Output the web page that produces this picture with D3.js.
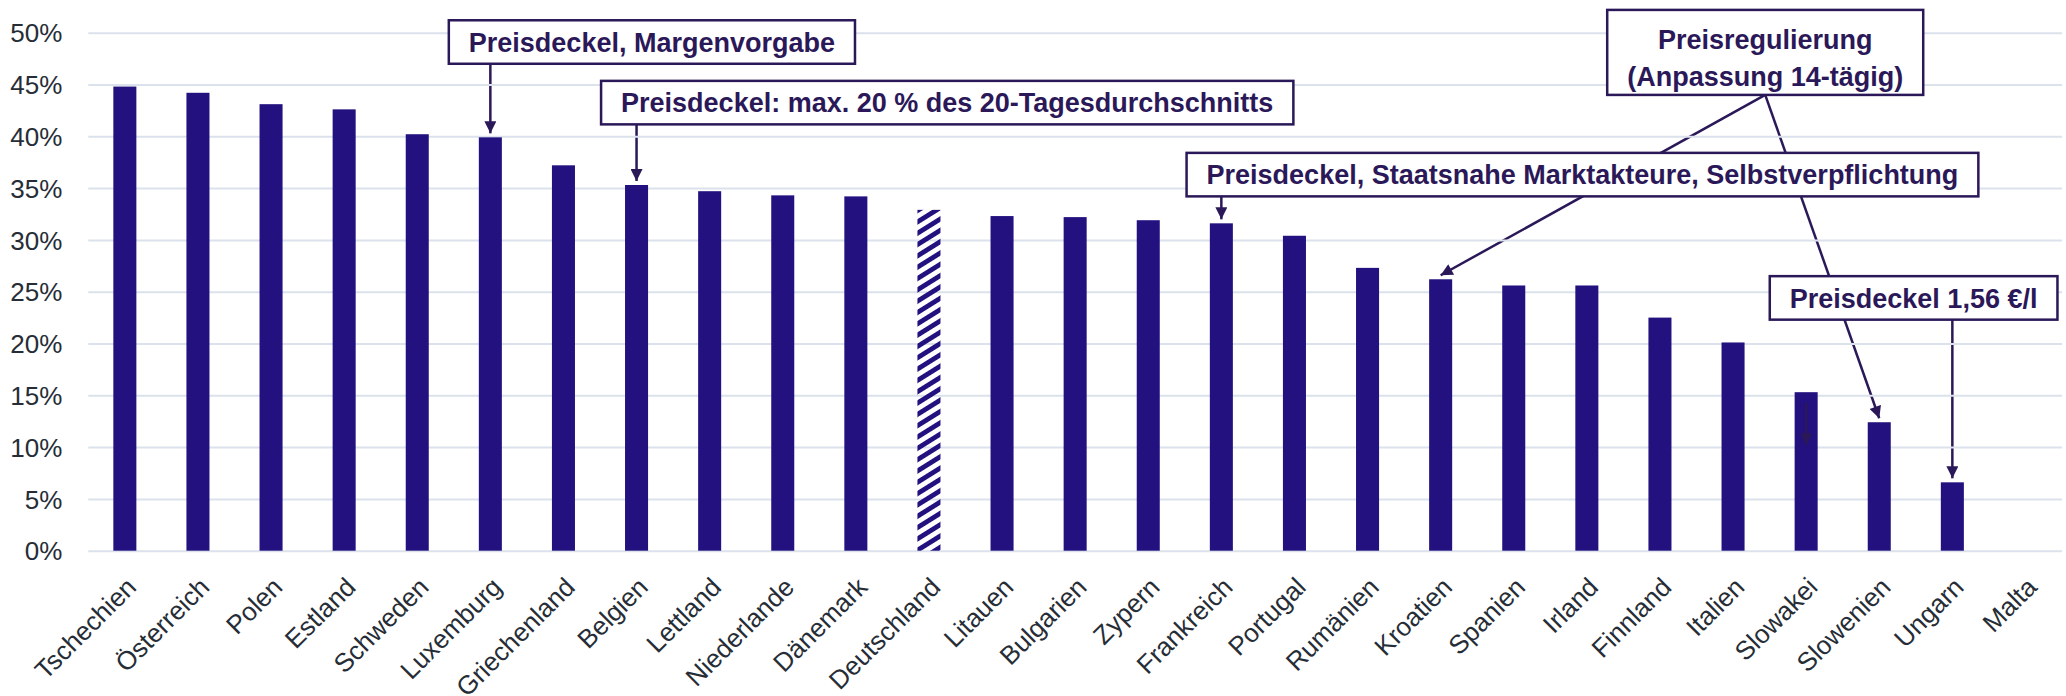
<!DOCTYPE html>
<html>
  <head>
    <meta charset="utf-8">
    <title>Preisanteil</title>
    <style>
      body { margin: 0; background: #fff; }
      text { font-family: "Liberation Sans", Arial, sans-serif; }
    </style>
  </head>
  <body>
    <svg id="chart"></svg>

    <script src="https://d3js.org/d3.v7.min.js"></script>
    <script>

const categories = ['Tschechien', 'Österreich', 'Polen', 'Estland', 'Schweden', 'Luxemburg',
  'Griechenland', 'Belgien', 'Lettland', 'Niederlande', 'Dänemark', 'Deutschland', 'Litauen',
  'Bulgarien', 'Zypern', 'Frankreich', 'Portugal', 'Rumänien', 'Kroatien', 'Spanien', 'Irland',
  'Finnland', 'Italien', 'Slowakei', 'Slowenien', 'Ungarn', 'Malta'];

const values = [44.8, 44.2, 43.1, 42.6, 40.2, 39.9, 37.2, 35.3, 34.7, 34.3, 34.2, 32.9, 32.3,
  32.2, 31.9, 31.6, 30.4, 27.3, 26.2, 25.6, 25.6, 22.5, 20.1, 15.3, 12.4, 6.6, null];

const hatched = ['Deutschland'];

const yTicks = [0, 5, 10, 15, 20, 25, 30, 35, 40, 45, 50];

// callout boxes: pos = fractional category index of the box centre, top = value (%) at the box top
const notes = [
  {lines: ['Preisdeckel, Margenvorgabe'], pos: 7.21, top: 51.2, targets: ['Luxemburg'], straight: true},
  {lines: ['Preisdeckel: max. 20 % des 20-Tagesdurchschnitts'], pos: 11.25, top: 45.35, targets: ['Belgien'], straight: true},
  {lines: ['Preisdeckel, Staatsnahe Marktakteure, Selbstverpflichtung'], pos: 19.94, top: 38.4, targets: ['Frankreich'], straight: true},
  {lines: ['Preisregulierung', '(Anpassung 14-tägig)'], pos: 22.44, top: 52.2, targets: ['Kroatien', 'Slowenien'], straight: false, pad: 20},
  {lines: ['Preisdeckel 1,56 €/l'], pos: 24.47, top: 26.5, targets: ['Ungarn'], straight: true}
];

const width = 2066, height = 696;
const barColor = '#22117e';
const noteColor = '#2b1858';

const svg = d3.select('#chart')
  .attr('width', width)
  .attr('height', height);

const x = d3.scaleBand()
  .domain(categories)
  .range([88.3, 2062])
  .paddingInner(0.685)
  .paddingOuter(0.3425);

const y = d3.scaleLinear()
  .domain([0, 50])
  .range([550.7, 32.7]);

const centre = c => x(c) + x.bandwidth() / 2;
const xi = d3.scaleLinear()
  .domain([0, categories.length - 1])
  .range([centre(categories[0]), centre(categories[categories.length - 1])]);

const defs = svg.append('defs');

defs.append('pattern')
  .attr('id', 'stripes')
  .attr('patternUnits', 'userSpaceOnUse')
  .attr('width', 10)
  .attr('height', 9.6)
  .attr('patternTransform', 'rotate(-32)')
  .append('rect')
  .attr('width', 10)
  .attr('height', 4.8)
  .attr('fill', barColor);

defs.append('marker')
  .attr('id', 'head')
  .attr('markerUnits', 'userSpaceOnUse')
  .attr('viewBox', '0 0 10 10')
  .attr('refX', 10)
  .attr('refY', 5)
  .attr('markerWidth', 13)
  .attr('markerHeight', 12)
  .attr('orient', 'auto')
  .append('path')
  .attr('d', 'M0,0L10,5L0,10z')
  .attr('fill', noteColor);

// grid + y labels
const yAxis = svg.append('g')
  .attr('transform', 'translate(88.3,0)')
  .call(d3.axisLeft(y).tickValues(yTicks).tickSize(-(2062 - 88.3)).tickFormat(d => d + '%'));
yAxis.select('.domain').remove();
yAxis.selectAll('.tick line')
  .attr('stroke', '#dbe2ec')
  .attr('stroke-width', 2);
yAxis.selectAll('.tick text')
  .attr('x', -26)
  .attr('dy', '0.35em')
  .attr('fill', '#262d36')
  .style('font-size', '26px');

// x labels
const xAxis = svg.append('g')
  .attr('transform', `translate(0,${y(0)})`)
  .call(d3.axisBottom(x).tickSize(0));
xAxis.select('.domain').remove();
xAxis.selectAll('.tick text')
  .attr('y', 0)
  .attr('dy', 0)
  .attr('text-anchor', 'end')
  .attr('transform', 'translate(13,38) rotate(-45)')
  .attr('fill', '#262d36')
  .style('font-size', '26px');

// bars
const data = categories.map((c, i) => ({cat: c, value: values[i]}));

svg.append('g').selectAll('rect')
  .data(data.filter(d => d.value != null))
  .join('rect')
  .attr('x', d => x(d.cat))
  .attr('y', d => y(d.value))
  .attr('width', x.bandwidth())
  .attr('height', d => y(0) - y(d.value))
  .attr('fill', d => hatched.includes(d.cat) ? 'url(#stripes)' : barColor);

const valueOf = c => values[categories.indexOf(c)];

// small arrow inside the Slowakei bar
svg.append('line')
  .attr('x1', centre('Slowakei'))
  .attr('x2', centre('Slowakei'))
  .attr('y1', y(valueOf('Slowakei')) + 11)
  .attr('y2', y(valueOf('Slowakei')) + 53)
  .attr('stroke', noteColor)
  .attr('stroke-width', 2.5)
  .attr('marker-end', 'url(#head)');

// callouts
const lineH = 37;
const boxes = notes.map(n => {
  const g = svg.append('g');
  const top = y(n.top);
  const h = n.lines.length === 1 ? 43.5 : 85;
  const cx = xi(n.pos);
  const texts = n.lines.map((l, k) => g.append('text')
    .attr('x', cx)
    .attr('y', top + (n.lines.length === 1 ? 31.5 : 39 + k * lineH))
    .attr('text-anchor', 'middle')
    .attr('fill', noteColor)
    .style('font-size', '27px')
    .style('font-weight', 'bold')
    .text(l));
  const tw = d3.max(texts, t => t.node().getComputedTextLength());
  const pad = n.pad || 20;
  g.insert('rect', 'text')
    .attr('x', cx - tw / 2 - pad)
    .attr('y', top)
    .attr('width', tw + 2 * pad)
    .attr('height', h)
    .attr('fill', '#fff')
    .attr('stroke', noteColor)
    .attr('stroke-width', 2.5);
  return {n, g, cx, bottom: top + h};
});

const arrows = svg.insert('g', 'g');
boxes.forEach(b => {
  b.n.targets.forEach(t => {
    const tx = centre(t);
    arrows.append('line')
      .attr('x1', b.n.straight ? tx : b.cx)
      .attr('y1', b.bottom)
      .attr('x2', tx)
      .attr('y2', y(valueOf(t)) - 4)
      .attr('stroke', noteColor)
      .attr('stroke-width', 2.5)
      .attr('marker-end', 'url(#head)');
  });
});
// keep arrows above bars but below boxes
boxes.forEach(b => b.g.raise());

    </script>
  </body>
</html>
